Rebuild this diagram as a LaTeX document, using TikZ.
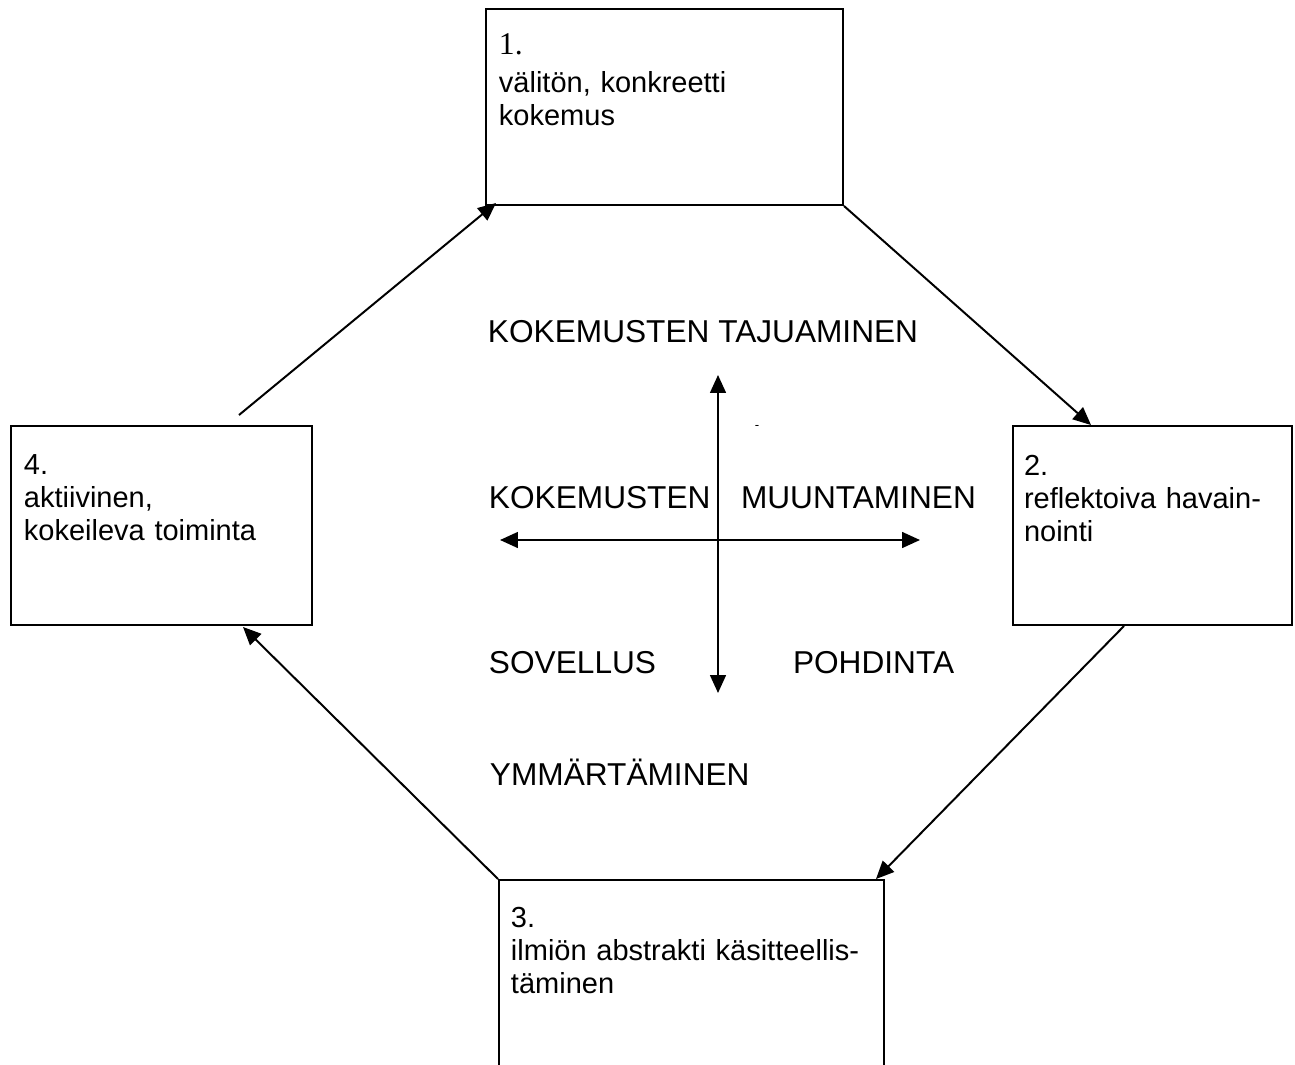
\documentclass[tikz,border=0pt]{standalone}
\usepackage{fontspec}
\setmainfont{Liberation Sans}
\newfontfamily\timesfont{Liberation Serif}
\usetikzlibrary{arrows.meta,fit,calc}

\begin{document}
\begin{tikzpicture}[x=0.3793pt,y=-0.3793pt,>={Triangle[length=6.8pt,width=6pt]},
  line width=0.75pt,
  stage box/.style={draw,rectangle,inner sep=0pt},
  stage text/.style={anchor=base west,inner sep=0pt,align=left,font=\fontsize{11}{12.65}\selectfont},
  axis label/.style={anchor=base west,inner sep=0pt,font=\fontsize{12}{13.8}\selectfont}]

  \useasboundingbox (0,0) rectangle (1295,1064);
  \clip (0,0) rectangle (1295,1064);

  % the four stages
  \node[stage box,fit={(486,9) (843,205)}] (b1) {};
  \node[stage box,fit={(1013,426) (1292,625)}] (b2) {};
  \node[stage box,fit={(499,880) (884,1120)}] (b3) {};
  \node[stage box,fit={(11,426) (312,625)}] (b4) {};

  \node[stage text,text width=130pt] (t1) at (498,55)
    {{\timesfont\fontsize{12}{13.8}\selectfont 1.}\\[1.4pt]välitön, konkreetti\\kokemus};
  \node[stage text,text width=101pt] (t2) at (1023,475)
    {2.\\reflektoiva havain-\\nointi};
  \node[stage text,text width=140pt] (t3) at (510,927)
    {3.\\ilmiön abstrakti käsitteellis-\\täminen};
  \node[stage text,text width=108pt] (t4) at (23,474)
    {4.\\aktiivinen,\\kokeileva toiminta};

  % the cycle
  \coordinate (c4) at ($(b4.north east)+(-74,-10)$);
  \draw[->] (c4) -- ($(b1.south west)+(11,-3)$); % 4 -> 1
  \draw[->] (b1.south east) -- ($(b2.north west)+(79,0)$); % 1 -> 2
  \draw[->] ($(b2.south west)+(112,0)$) -- ($(b3.north east)+(-9,0)$); % 2 -> 3
  \draw[->] (b3.north west) -- ($(b4.south east)+(-70,1)$); % 3 -> 4

  % axes in the middle
  \coordinate (ax n) at (718,375);
  \coordinate (ax s) at (718,693);
  \coordinate (ax w) at (500,540);
  \coordinate (ax e) at (920,540);
  \draw[<->] (ax n) -- (ax s);
  \draw[<->] (ax w) -- (ax e);

  \node[axis label] (tajuaminen) at (487,342) {KOKEMUSTEN TAJUAMINEN};
  \node[axis label] (kokemusten) at (488,508) {KOKEMUSTEN};
  \node[axis label] (muuntaminen) at (740,508) {MUUNTAMINEN};
  \node[axis label] (sovellus) at (488,673) {SOVELLUS};
  \node[axis label] (pohdinta) at (792,673) {POHDINTA};
  \node[axis label] (ymmartaminen) at (489,785) {YMMÄRTÄMINEN};
  \node[inner sep=0pt,font=\fontsize{5}{5}\selectfont] (dot) at (757,427) {-};
\end{tikzpicture}
\end{document}
